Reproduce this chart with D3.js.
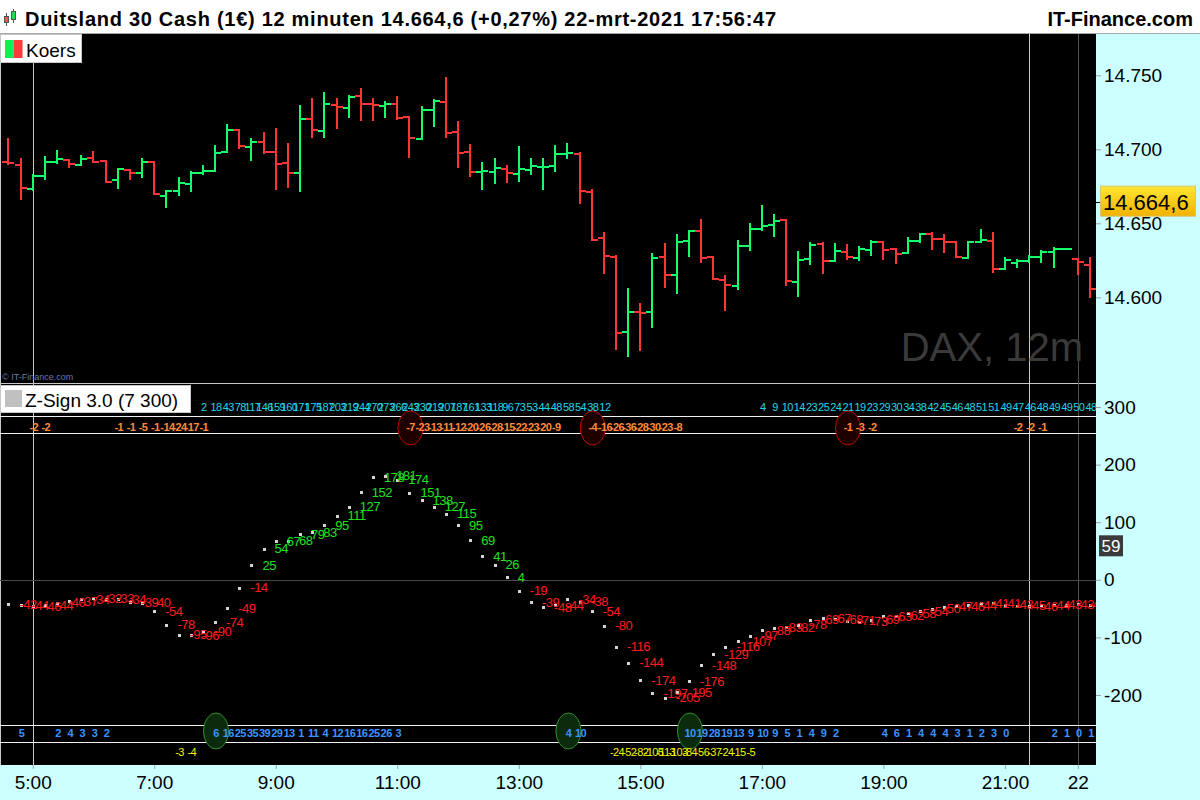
<!DOCTYPE html>
<html><head><meta charset="utf-8">
<script src="https://cdn.jsdelivr.net/npm/d3@7/dist/d3.min.js"></script>
<style>
html,body{margin:0;padding:0;background:#fff;}
svg{display:block;font-family:"Liberation Sans",Arial,sans-serif;}
</style></head><body>
<svg id="chart" width="1200" height="800"></svg>
<script>
// ---------- DATA ----------
const barOpen  = [14691.5,14689.2,14673.0,14681.8,14691.2,14692.6,14689.2,14693.9,14692.3,14679.3,14685.8,14683.8,14691.2,14668.2,14671.6,14676.4,14683.8,14685.1,14698.0,14712.8,14701.4,14704.7,14698.0,14690.5,14683.8,14720.3,14712.2,14729.7,14727.7,14735.8,14730.4,14729.1,14730.4,14721.6,14706.8,14726.4,14731.8,14711.5,14698.0,14684.5,14684.5,14686.5,14683.1,14685.8,14687.8,14688.5,14696.6,14696.6,14670.9,14639.9,14627.0,14576.4,14589.9,14589.9,14627.0,14614.9,14637.8,14644.6,14627.0,14611.5,14607.4,14634.5,14645.9,14648.6,14652.0,14610.1,14625.7,14635.8,14624.3,14630.4,14626.4,14632.2,14637.6,14632.8,14629.7,14638.2,14642.8,14639.6,14637.6,14626.4,14637.2,14637.8,14618.9,14623.4,14624.3,14627.2,14630.6,14632.6,14625.7,14621.6];
const barHigh  = [14707.0,14693.4,14682.6,14694.8,14698.9,14692.6,14695.5,14698.2,14692.3,14686.7,14685.8,14693.4,14691.2,14671.6,14680.6,14684.5,14688.7,14702.2,14716.4,14712.8,14707.0,14711.0,14713.7,14703.6,14729.3,14734.0,14738.0,14734.0,14736.0,14740.7,14734.0,14731.8,14735.3,14721.6,14728.4,14733.3,14748.2,14718.4,14702.9,14690.5,14693.4,14688.7,14701.4,14693.4,14693.4,14702.2,14703.6,14697.3,14672.5,14643.4,14627.7,14605.4,14595.5,14629.3,14636.0,14642.1,14644.6,14652.2,14627.0,14614.4,14638.0,14649.5,14661.7,14655.6,14652.0,14630.6,14636.5,14636.5,14635.8,14635.1,14634.3,14637.8,14637.6,14632.8,14639.9,14642.8,14643.6,14642.1,14637.6,14637.4,14645.5,14643.2,14626.4,14625.0,14627.9,14631.5,14633.3,14632.6,14625.7,14626.4];
const barLow   = [14690.1,14666.6,14672.5,14680.1,14690.5,14688.2,14689.2,14691.2,14677.7,14673.6,14679.7,14681.5,14669.6,14661.2,14669.3,14672.0,14683.1,14685.1,14698.0,14700.7,14693.0,14697.3,14673.4,14674.7,14672.0,14708.5,14708.5,14714.6,14722.0,14720.0,14720.0,14722.0,14720.3,14695.0,14706.8,14715.9,14708.5,14688.2,14682.2,14673.4,14677.4,14678.1,14678.8,14683.5,14673.4,14685.5,14694.3,14663.9,14638.5,14616.6,14565.3,14560.5,14564.6,14580.1,14607.2,14603.1,14628.1,14624.1,14612.2,14591.6,14605.8,14632.2,14645.3,14641.6,14608.1,14601.1,14622.7,14616.6,14624.3,14625.7,14625.0,14628.6,14626.1,14623.0,14629.7,14637.6,14632.8,14630.4,14627.0,14626.4,14637.2,14616.9,14618.9,14620.3,14623.9,14623.6,14620.7,14632.6,14615.5,14600.0];
const barClose = [14691.0,14673.9,14681.8,14691.2,14693.2,14689.9,14693.4,14691.2,14677.7,14686.7,14683.8,14691.2,14669.6,14671.6,14677.0,14683.8,14685.1,14697.3,14712.8,14702.0,14704.7,14698.0,14689.9,14683.8,14720.3,14712.8,14730.4,14728.4,14735.3,14730.4,14730.0,14730.4,14720.9,14707.4,14726.4,14732.4,14710.8,14697.3,14684.5,14685.1,14687.2,14683.8,14686.5,14688.5,14688.0,14696.6,14697.3,14671.6,14638.5,14627.7,14575.9,14589.9,14589.2,14626.4,14614.9,14637.2,14644.6,14626.4,14612.2,14608.1,14634.5,14645.9,14648.0,14651.6,14610.8,14625.0,14635.1,14624.3,14631.1,14627.0,14632.3,14637.6,14632.2,14629.1,14638.2,14642.8,14639.6,14637.2,14627.0,14637.2,14638.5,14618.9,14625.0,14624.3,14627.2,14630.6,14632.6,14632.7,14624.1,14605.6];

const zSign = [-42,-44,-46,-44,-40,-37,-34,-32,-33,-34,-39,-40,-54,-78,-95,-96,-90,-74,-49,-14,
  25,54,67,68,79,83,95,111,127,152,178,181,174,151,138,127,115,95,69,41,
  26,4,-19,-39,-48,-44,-34,-38,-54,-80,-116,-144,-174,-197,-205,-195,-176,-148,-129,-116,
  -107,-97,-88,-83,-82,-78,-69,-67,-68,-71,-73,-69,-63,-62,-58,-54,-50,-47,-46,-44,
  -41,-41,-43,-45,-46,-44,-43,-43,-42,-44];

// counter rows: start bar index + consecutive values
const cyanStarts = [16, 62];
const cyanValues = [[2,18,43,78,117,146,159,160,171,175,187,203,219,244,270,273,266,243,230,219,207,187,161,133,118,96,73,53,44,48,58,54,38,12],
                    [4,9,10,14,23,25,24,21,19,23,29,30,34,38,42,45,46,48,51,51,49,47,46,48,49,49,50,48]];
const orangeStarts = [2, 9, 33, 48, 69, 83];
const orangeValues = [[-2,-2],[-1,-1,-5,-1,-14,-24,-17,-1],[-7,-23,-13,-11,-12,-20,-26,-28,-15,-22,-23,-20,-9],
                      [-4,-16,-26,-36,-28,-30,-23,-8],[-1,-3,-2],[-2,-2,-1]];
const blueStarts = [1, 4, 17, 46, 56, 72, 86];
const blueValues = [[5],[2,4,3,3,2],[6,16,25,35,39,29,13,1,11,4,12,16,16,25,26,3],[4,10],
                    [10,19,28,19,13,9,10,9,5,1,4,9,2],[4,6,1,4,4,4,3,1,2,3,0],[2,1,0,1]];
const yellowStarts = [14, 50];
const yellowValues = [[-3,-4],[-24,-52,-82,-105,-113,-103,-84,-56,-37,-24,-15,-5]];

const sellSignals = [33, 48, 69];
const buySignals = [17, 46, 56];

const timeTickBars = [2,12,22,32,42,52,62,72,82,88];
const timeTickLabels = ["5:00","7:00","9:00","11:00","13:00","15:00","17:00","19:00","21:00","22"];
const priceTicks = [14600,14650,14700,14750];
const zTicks = [300,200,100,0,-100,-200];
const lastPrice = 14664.6;
const lastZ = 59;
const cursorBars = [2, 84];
const dayBreakBar = 88;

const titleText = "Duitsland 30 Cash (1€) 12 minuten 14.664,6 (+0,27%) 22-mrt-2021 17:56:47";

// ---------- SCALES ----------
const svg = d3.select('#chart');
const nBars = barOpen.length;
const x = d3.scaleLinear().domain([0, nBars-1]).range([8.4, 1090]);
const yP = d3.scaleLinear().domain([14600, 14750]).range([297.3, 75.3]);
const yZ = d3.scaleLinear().domain([-200, 300]).range([695, 407]);
const plotR = 1096, plotTop = 34, plotBottom = 765;

const defs = svg.append('defs');
defs.append('clipPath').attr('id','plotclip').append('rect')
  .attr('x',0).attr('y',plotTop).attr('width',plotR).attr('height',plotBottom-plotTop);

// ---------- FRAME ----------
svg.append('rect').attr('width',1200).attr('height',800).attr('fill','#fff');
svg.append('rect').attr('x',plotR).attr('y',plotTop).attr('width',1200-plotR).attr('height',plotBottom-plotTop).attr('fill','#ccffff');
svg.append('rect').attr('x',0).attr('y',plotBottom).attr('width',1200).attr('height',800-plotBottom).attr('fill','#ccffff');
svg.append('rect').attr('x',0).attr('y',plotTop).attr('width',plotR).attr('height',plotBottom-plotTop).attr('fill','#000');
svg.append('line').attr('x1',0).attr('x2',1200).attr('y1',33.5).attr('y2',33.5).attr('stroke','#a8a8a8');
svg.append('line').attr('x1',0.5).attr('x2',0.5).attr('y1',plotTop).attr('y2',plotBottom).attr('stroke','#c8c8c8');
svg.append('line').attr('x1',0).attr('x2',plotR).attr('y1',383.5).attr('y2',383.5).attr('stroke','#c8c8c8');

// title
const icon = svg.append('g');
icon.append('line').attr('x1',6.5).attr('x2',6.5).attr('y1',13).attr('y2',26).attr('stroke','#555');
icon.append('rect').attr('x',4.5).attr('y',16.5).attr('width',4).attr('height',6).attr('fill','#ff5050').attr('stroke','#555');
icon.append('line').attr('x1',13.5).attr('x2',13.5).attr('y1',9).attr('y2',23).attr('stroke','#555');
icon.append('rect').attr('x',11.5).attr('y',11.5).attr('width',4).attr('height',8).attr('fill','#22dd44').attr('stroke','#555');
svg.append('text').attr('x',25).attr('y',26).attr('font-size',20).attr('font-weight','bold').attr('fill','#000')
  .attr('textLength',751).attr('lengthAdjust','spacing').text(titleText);
svg.append('text').attr('x',1193).attr('y',26).attr('text-anchor','end').attr('font-size',20).attr('font-weight','bold').attr('fill','#000').text('IT-Finance.com');

// vertical cursor lines
svg.selectAll('line.cur').data(cursorBars).join('line').attr('class','cur')
  .attr('x1',d=>Math.round(x(d))+0.5).attr('x2',d=>Math.round(x(d))+0.5).attr('y1',plotTop).attr('y2',plotBottom)
  .attr('stroke','#c8c8c8');
svg.append('line').attr('x1',Math.round(x(dayBreakBar))+0.5).attr('x2',Math.round(x(dayBreakBar))+0.5)
  .attr('y1',plotTop).attr('y2',plotBottom).attr('stroke','#505050');

// watermark
svg.append('text').attr('x',1083).attr('y',361).attr('text-anchor','end').attr('font-size',40).attr('fill','#3a3a3a').text('DAX, 12m');
svg.append('text').attr('x',2).attr('y',380).attr('font-size',9).attr('fill','#6a78a8').text('© IT-Finance.com');

// ---------- PRICE BARS ----------
const idx = d3.range(nBars);
const up = i => barClose[i] >= barOpen[i];
const col = i => up(i) ? '#14ff6a' : '#ff3434';
const pb = svg.append('g').attr('shape-rendering','crispEdges').attr('clip-path','url(#plotclip)');
pb.selectAll('line.hl').data(idx).join('line')
  .attr('x1',i=>Math.round(x(i))).attr('x2',i=>Math.round(x(i)))
  .attr('y1',i=>yP(barHigh[i])-1).attr('y2',i=>yP(barLow[i])+1)
  .attr('stroke',col).attr('stroke-width',2);
pb.selectAll('line.op').data(idx).join('line')
  .attr('x1',i=>Math.round(x(i))-6).attr('x2',i=>Math.round(x(i)))
  .attr('y1',i=>Math.round(yP(barOpen[i]))).attr('y2',i=>Math.round(yP(barOpen[i])))
  .attr('stroke',col).attr('stroke-width',2);
pb.selectAll('line.cl').data(idx).join('line')
  .attr('x1',i=>Math.round(x(i))).attr('x2',i=>Math.round(x(i))+6)
  .attr('y1',i=>Math.round(yP(barClose[i]))).attr('y2',i=>Math.round(yP(barClose[i])))
  .attr('stroke',col).attr('stroke-width',2);

// price axis
const pAxis = svg.append('g').attr('transform',`translate(${plotR},0)`)
  .call(d3.axisRight(yP).tickValues(priceTicks).tickSize(5).tickPadding(3)
    .tickFormat(d=>d3.format(",.0f")(d).replace(/,/g,'.')));
pAxis.select('.domain').remove();
pAxis.selectAll('line').attr('stroke','#a0a0a0');
pAxis.selectAll('text').attr('font-size',19).attr('fill','#000').attr('font-family','"Liberation Sans",Arial,sans-serif');

// last price box
const gr = defs.append('linearGradient').attr('id','gold').attr('x1',0).attr('x2',0).attr('y1',0).attr('y2',1);
gr.append('stop').attr('offset','0%').attr('stop-color','#ffe633');
gr.append('stop').attr('offset','100%').attr('stop-color','#f2b200');
svg.append('line').attr('x1',plotR).attr('x2',plotR+5).attr('y1',Math.round(yP(lastPrice))+0.5).attr('y2',Math.round(yP(lastPrice))+0.5).attr('stroke','#000');
svg.append('rect').attr('x',1100.5).attr('y',yP(lastPrice)-15.5).attr('width',95).attr('height',30).attr('fill','url(#gold)').attr('stroke','#d8c070');
svg.append('text').attr('x',1103).attr('y',yP(lastPrice)+8).attr('font-size',22).attr('fill','#000').text(d3.format(",.1f")(lastPrice).replace(',','#').replace('.',',').replace('#','.'));

// legends
svg.append('rect').attr('x',0.5).attr('y',34.5).attr('width',81).attr('height',28).attr('fill','#fff').attr('stroke','#c8c8c8');
svg.append('rect').attr('x',5).attr('y',40).attr('width',8.5).attr('height',18).attr('fill','#14ee55');
svg.append('rect').attr('x',13.5).attr('y',40).attr('width',9).attr('height',18).attr('fill','#ff3a3a');
svg.append('text').attr('x',26).attr('y',57).attr('font-size',19).attr('fill','#000').text('Koers');

// ---------- Z-SIGN PANEL ----------
svg.append('line').attr('x1',0).attr('x2',plotR).attr('y1',Math.round(yZ(0))+0.5).attr('y2',Math.round(yZ(0))+0.5).attr('stroke','#4a4a4a');
[416.5,433.5,725.5,742.5].forEach(yy=>svg.append('line').attr('x1',0).attr('x2',plotR).attr('y1',yy).attr('y2',yy).attr('stroke','#f0f0f0'));

// signal ellipses
svg.selectAll('ellipse.sell').data(sellSignals).join('ellipse')
  .attr('cx',d=>x(d)+1).attr('cy',428).attr('rx',12.5).attr('ry',17)
  .attr('fill','#1e0000').attr('stroke','#c00000').attr('stroke-width',1);
svg.selectAll('ellipse.buy').data(buySignals).join('ellipse')
  .attr('cx',d=>x(d)+1).attr('cy',731).attr('rx',12.5).attr('ry',18)
  .attr('fill','#0c2a0c').attr('stroke','#2f8f2f').attr('stroke-width',1);

const rowLayer = svg.append('g').attr('clip-path','url(#plotclip)');
function drawRow(starts, values, cy, color, weight, size){
  const items = [];
  starts.forEach((s,k)=>values[k].forEach((v,j)=>items.push({i:s+j,v})));
  rowLayer.append('g').selectAll('text').data(items).join('text')
    .attr('x',d=>x(d.i)+1).attr('y',cy+4).attr('text-anchor','middle')
    .attr('font-size',size).attr('font-weight',weight).attr('letter-spacing',-0.6)
    .attr('fill',color).text(d=>d.v);
}
drawRow(cyanStarts, cyanValues, 407, '#22d6ea', 'normal', 11);
drawRow(orangeStarts, orangeValues, 427, '#ff8a3a', 'bold', 11);
drawRow(blueStarts, blueValues, 733, '#3a94ff', 'bold', 11);
drawRow(yellowStarts, yellowValues, 752, '#f4f400', 'normal', 11);

// z-sign points and labels
const zg = svg.append('g').attr('clip-path','url(#plotclip)');
zg.selectAll('rect').data(idx).join('rect')
  .attr('x',i=>Math.round(x(i))-1).attr('y',i=>Math.round(yZ(zSign[i]))-1).attr('width',3).attr('height',3).attr('fill','#d4d4d4');
zg.selectAll('text').data(idx).join('text')
  .attr('x',i=>x(i)+11).attr('y',i=>yZ(zSign[i])+4.6)
  .attr('font-size',13).attr('letter-spacing',-0.5)
  .attr('fill',i=>zSign[i] >= 0 ? '#1ee01e' : '#ff1c1c').text(i=>zSign[i]);

// legend Z
svg.append('rect').attr('x',0.5).attr('y',385.5).attr('width',190).attr('height',27).attr('fill','#fff').attr('stroke','#c8c8c8');
svg.append('rect').attr('x',5).attr('y',390).attr('width',17).attr('height',17).attr('fill','#c0c0c0');
svg.append('text').attr('x',25).attr('y',407).attr('font-size',19).attr('fill','#000').text('Z-Sign 3.0 (7 300)');

// z axis
const zAxis = svg.append('g').attr('transform',`translate(${plotR},0)`)
  .call(d3.axisRight(yZ).tickValues(zTicks).tickSize(5).tickPadding(3).tickFormat(d=>String(d)));
zAxis.select('.domain').remove();
zAxis.selectAll('line').attr('stroke','#a0a0a0');
zAxis.selectAll('text').attr('font-size',19).attr('fill','#000').attr('font-family','"Liberation Sans",Arial,sans-serif');
svg.append('rect').attr('x',1099).attr('y',yZ(lastZ)-10.5).attr('width',24).attr('height',21).attr('fill','#3a3a3a');
svg.append('text').attr('x',1111).attr('y',yZ(lastZ)+6).attr('text-anchor','middle').attr('font-size',17).attr('fill','#fff').text(lastZ);

// time axis
const tAxis = svg.append('g').attr('transform',`translate(0,${plotBottom})`)
  .call(d3.axisBottom(x).tickValues(timeTickBars).tickSize(4).tickPadding(7)
    .tickFormat((d,k)=>timeTickLabels[k]));
tAxis.select('.domain').remove();
tAxis.selectAll('line').attr('stroke','#a0a0a0');
tAxis.selectAll('text').attr('font-size',19).attr('fill','#000').attr('font-family','"Liberation Sans",Arial,sans-serif');
</script></body></html>
